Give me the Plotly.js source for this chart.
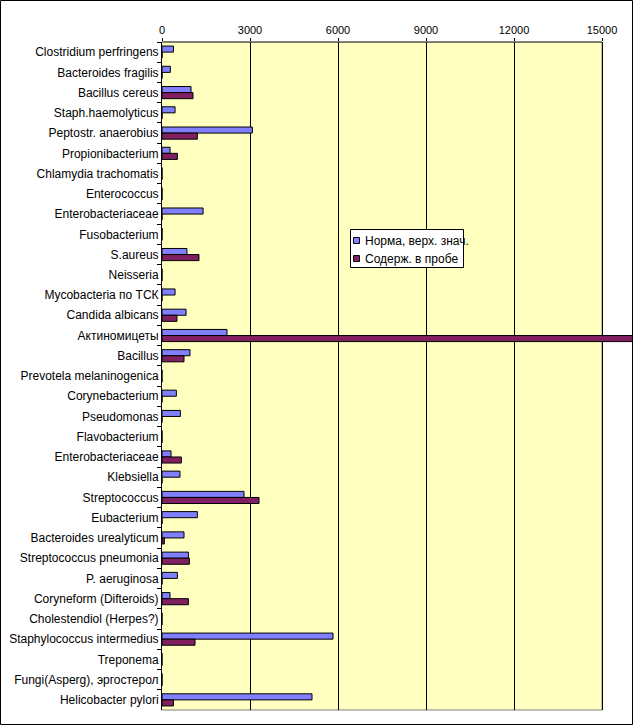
<!DOCTYPE html>
<html>
<head>
<meta charset="utf-8">
<script src="https://cdn.plot.ly/plotly-3.0.1.min.js"></script>
<style>html,body{margin:0;padding:0;background:#fff;}#chart{width:633px;height:726px;}</style>
</head>
<body>
<div id="chart"></div>
<script>
var categories = [
  "Clostridium perfringens", "Bacteroides fragilis", "Bacillus cereus", "Staph.haemolyticus",
  "Peptostr. anaerobius", "Propionibacterium", "Chlamydia trachomatis", "Enterococcus",
  "Enterobacteriaceae", "Fusobacterium", "S.aureus", "Neisseria", "Mycobacteria по ТСК",
  "Candida albicans", "Актиномицеты", "Bacillus", "Prevotela melaninogenica", "Corynebacterium",
  "Pseudomonas", "Flavobacterium", "Enterobacteriaceae\u200b", "Klebsiella", "Streptococcus",
  "Eubacterium", "Bacteroides urealyticum", "Streptococcus pneumonia", "P. aeruginosa",
  "Coryneform (Difteroids)", "Cholestendiol (Herpes?)", "Staphylococcus intermedius",
  "Treponema", "Fungi(Asperg), эргостерол", "Helicobacter pylori"
];
var normValues = [
  390, 285, 990, 445,
  3080, 275, 0, 0,
  1400, 0, 850, 0, 445,
  820, 2215, 955, 0, 490,
  627, 0, 307, 614, 2795,
  1205, 750, 900, 525,
  273, 0, 5830,
  0, 0, 5114
];
var sampleValues = [
  0, 0, 1057, 0,
  1205, 525, 0, 0,
  0, 0, 1260, 0, 0,
  510, 16200, 750, 0, 0,
  0, 0, 660, 0, 3307,
  0, 80, 934, 0,
  900, 0, 1125,
  0, 0, 390
];
var seriesNames = ["Норма, верх. знач.", "Содерж. в пробе"];
var tickValues = [0, 3000, 6000, 9000, 12000, 15000];

var FONT = "Arial, 'Liberation Sans', sans-serif";
var L = 162, R = 1, T = 42, B = 16, W = 633, H = 726;
var PW = W - L - R, PH = H - T - B;
function px(x) { return (x - L) / PW; }
function py(y) { return (H - B - y) / PH; }
var xMax = 15000 * PW / 440;

var traces = [
  {type: "bar", orientation: "h", name: seriesNames[0], y: categories, x: normValues,
   marker: {color: "#8080FF", line: {color: "#000", width: 1}}, showlegend: false},
  {type: "bar", orientation: "h", name: seriesNames[1], y: categories, x: sampleValues,
   marker: {color: "#802060", line: {color: "#000", width: 1}}, showlegend: false}
];

var shapes = [
  {type: "rect", xref: "x", yref: "paper", x0: 0, x1: 15000, y0: 0, y1: 1,
   fillcolor: "#FFFFC0", line: {width: 0}, layer: "below"},
  {type: "line", xref: "x", yref: "paper", x0: 15000, x1: 15000, y0: 0, y1: 1,
   line: {color: "#808080", width: 1}, layer: "between"},
  {type: "line", xref: "x", yref: "paper", x0: 0, x1: 15000, y0: 0, y1: 0,
   line: {color: "#808080", width: 1}, layer: "between"},
  {type: "line", xref: "x", yref: "paper", x0: 0, x1: 15000, y0: 1, y1: 1,
   line: {color: "#000", width: 1}, layer: "above"},
  {type: "rect", xref: "paper", yref: "paper", x0: px(0.5), x1: px(632.5), y0: py(724.5), y1: py(0.5),
   line: {color: "#000", width: 1}, fillcolor: "rgba(0,0,0,0)", layer: "above"},
  // legend box
  {type: "rect", xref: "paper", yref: "paper", x0: px(350.5), x1: px(463.5), y0: py(267.5), y1: py(229.5),
   line: {color: "#000", width: 1}, fillcolor: "#FFFFFF", layer: "above"},
  {type: "rect", xref: "paper", yref: "paper", x0: px(353.5), x1: px(359.5), y0: py(243.5), y1: py(237.5),
   line: {color: "#000", width: 1}, fillcolor: "#8080FF", layer: "above"},
  {type: "rect", xref: "paper", yref: "paper", x0: px(353.5), x1: px(359.5), y0: py(261.5), y1: py(255.5),
   line: {color: "#000", width: 1}, fillcolor: "#802060", layer: "above"}
];

var annotations = [
  {xref: "paper", yref: "paper", x: px(363), y: py(240.5), xanchor: "left", yanchor: "middle",
   text: seriesNames[0], showarrow: false, font: {family: FONT, size: 12, color: "#000"}},
  {xref: "paper", yref: "paper", x: px(363), y: py(258.5), xanchor: "left", yanchor: "middle",
   text: seriesNames[1], showarrow: false, font: {family: FONT, size: 12, color: "#000"}}
];

var layout = {
  width: W, height: H,
  margin: {l: L, r: R, t: T, b: B, pad: 0},
  paper_bgcolor: "#FFFFFF",
  plot_bgcolor: "rgba(0,0,0,0)",
  barmode: "group",
  bargap: 0.4,
  bargroupgap: 0,
  showlegend: false,
  font: {family: FONT, size: 12, color: "#000"},
  xaxis: {
    side: "top", range: [0, xMax], tickvals: tickValues, ticktext: tickValues.map(String),
    ticks: "outside", ticklen: 3, tickcolor: "#000", tickwidth: 1,
    showgrid: true, gridcolor: "#000", gridwidth: 1, zeroline: false, showline: false,
    tickfont: {family: FONT, size: 11, color: "#000"}
  },
  yaxis: {
    type: "category", autorange: false, range: [categories.length - 0.5, -0.5],
    ticks: "outside", tickson: "boundaries", ticklen: 4, tickcolor: "#000", tickwidth: 1,
    showline: true, linecolor: "#000", linewidth: 1, showgrid: false, zeroline: false,
    tickfont: {family: FONT, size: 12, color: "#000"}
  },
  shapes: shapes,
  annotations: annotations
};

Plotly.newPlot("chart", traces, layout, {displayModeBar: false, staticPlot: true});
</script>
</body>
</html>
